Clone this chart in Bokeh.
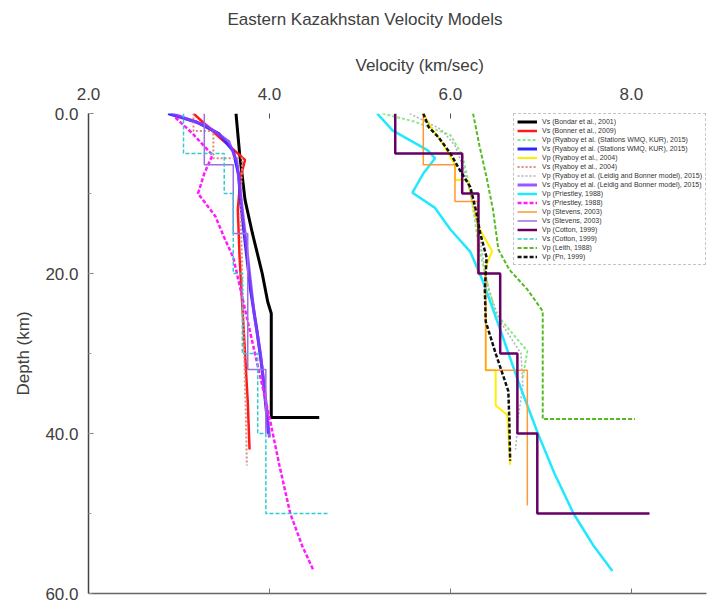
from bokeh.plotting import figure
from bokeh.models import (Range1d, LinearAxis, SingleIntervalTicker, NumeralTickFormatter,
                          Title, Legend, LegendItem)
from bokeh.embed import file_html
from bokeh.resources import INLINE

FONT = "Liberation Sans"
TXT = "#404040"

# ---- data: (velocity km/s, depth km) ----
labels = [
    "Vs (Bondar et al., 2001)",
    "Vs (Bonner et al., 2009)",
    "Vp (Ryaboy et al. (Stations WMQ, KUR), 2015)",
    "Vs (Ryaboy et al. (Stations WMQ, KUR), 2015)",
    "Vp (Ryaboy et al., 2004)",
    "Vs (Ryaboy et al., 2004)",
    "Vp (Ryaboy et al. (Leidig and Bonner model), 2015)",
    "Vs (Ryaboy et al. (Leidig and Bonner model), 2015)",
    "Vp (Priestley, 1988)",
    "Vs (Priestley, 1988)",
    "Vp (Stevens, 2003)",
    "Vs (Stevens, 2003)",
    "Vp (Cotton, 1999)",
    "Vs (Cotton, 1999)",
    "Vp (Leith, 1988)",
    "Vp (Pn, 1999)",
]

v01 = [3.63, 3.67, 3.73, 3.81, 3.92, 3.98, 4.02, 4.02, 4.55]
d01 = [0, 5, 10.8, 14.9, 20, 23.5, 25, 38, 38]

v02 = [3.16, 3.45, 3.73, 3.68, 3.65, 3.67, 3.70, 3.73, 3.76, 3.78]
d02 = [0, 3, 5.8, 8, 12, 18, 24, 30, 36, 42]

v03 = [5.25, 5.6, 6.0, 6.13, 6.22, 6.3, 6.38, 6.5, 6.85, 6.8]
d03 = [0, 1, 2.7, 5.2, 9.5, 15.7, 20, 25, 29.7, 33]

v04 = [2.88, 3.2, 3.44, 3.6, 3.66, 3.68, 3.72, 3.79, 3.86, 3.92, 3.99]
d04 = [0, 1.1, 2.5, 4.7, 7.7, 11, 15, 22, 27, 32, 40]

v05 = [5.7, 5.8, 5.9, 6.05, 6.05, 6.19, 6.22, 6.3, 6.46, 6.38, 6.39, 6.39, 6.5, 6.5, 6.63, 6.66]
d05 = [0, 2, 3.5, 6.4, 8.3, 8.3, 10, 14, 17.2, 19.5, 22, 32.1, 32.1, 36.5, 37.7, 43.9]

v06 = [3.16, 3.16, 3.38, 3.38, 3.7, 3.68, 3.70, 3.72, 3.74, 3.75]
d06 = [0, 2.2, 2.2, 5.6, 5.6, 12, 20, 30, 38, 44]

v07 = [5.55, 5.9, 6.05, 6.15, 6.22, 6.3, 6.36, 6.42, 6.55, 6.78, 6.8, 6.75, 6.72]
d07 = [0, 2, 4, 7, 10, 14, 18, 22, 26, 30, 34, 38, 42]

v08 = [2.92, 3.3, 3.55, 3.64, 3.66, 3.7, 3.76, 3.83, 3.9, 3.97, 4.0]
d08 = [0, 1.5, 3.5, 6, 8, 12, 18, 25, 30, 37, 40.5]

v09 = [5.19, 5.36, 5.75, 5.83, 5.7, 5.58, 5.83, 6.0, 6.22, 6.36, 6.55, 6.75, 6.97, 7.15, 7.36, 7.58, 7.79]
d09 = [0, 2.1, 4.6, 5.6, 7.5, 9.9, 11.8, 14.5, 17.3, 21, 27, 33.5, 40.1, 45, 50, 54, 57.2]

v10 = [2.96, 3.15, 3.37, 3.28, 3.21, 3.4, 3.5, 3.6, 3.68, 3.76, 3.9, 4.0, 4.11, 4.23, 4.36, 4.49]
d10 = [0.5, 2.5, 5.2, 7.5, 10, 12.8, 15.5, 18, 22, 26, 33, 38, 44, 50, 54, 57.2]

v11 = [5.7, 5.7, 6.05, 6.05, 6.3, 6.3, 6.39, 6.39, 6.85, 6.85]
d11 = [0, 6.4, 6.4, 11, 11, 20, 20, 32.1, 32.1, 49]

v12 = [3.28, 3.28, 3.6, 3.6, 3.76, 3.76, 3.96, 3.96]
d12 = [0, 6.4, 6.4, 15, 15, 32, 32, 40]

v13 = [5.39, 5.39, 6.13, 6.13, 6.31, 6.31, 6.55, 6.55, 6.74, 6.74, 6.96, 6.96, 8.2]
d13 = [0, 5, 5, 10, 10, 20, 20, 30, 30, 40, 40, 50, 50]

v14 = [3.05, 3.05, 3.5, 3.5, 3.6, 3.6, 3.7, 3.7, 3.87, 3.87, 3.96, 3.96, 4.65]
d14 = [0, 5, 5, 10, 10, 20, 20, 30, 30, 40, 40, 50, 50]

v15 = [6.25, 6.32, 6.4, 6.47, 6.53, 6.65, 6.85, 7.02, 7.02, 8.04]
d15 = [0, 4, 8, 12, 17, 19.5, 22, 24.7, 38.2, 38.2]

v16 = [5.7, 5.76, 5.87, 6.0, 6.1, 6.22, 6.28, 6.33, 6.4, 6.38, 6.39, 6.5, 6.64, 6.65, 6.66]
d16 = [0, 1.7, 3, 5, 7, 9.2, 12, 15, 18, 22, 26, 30, 34.7, 38, 43.4]

x_ticks_step = 2.0
y_ticks_step = 20

series = [
    (v01, d01, "#000000", 3, "solid", 1.0),
    (v02, d02, "#ff1a1a", 2.5, "solid", 1.0),
    (v03, d03, "#22dd22", 2, "3 2", 0.55),
    (v04, d04, "#2a2aff", 3, "solid", 1.0),
    (v05, d05, "#ffee00", 2, "solid", 1.0),
    (v06, d06, "#d98c80", 2, "2 2", 1.0),
    (v07, d07, "#b0b0b0", 1.5, "2 2", 1.0),
    (v08, d08, "#8a3cff", 3, "solid", 0.85),
    (v09, d09, "#22e8ff", 2.5, "solid", 1.0),
    (v10, d10, "#ff1aff", 2.5, "4 2", 1.0),
    (v11, d11, "#ff9933", 1.5, "solid", 1.0),
    (v12, d12, "#9a70e0", 1.5, "solid", 1.0),
    (v13, d13, "#660066", 2.5, "solid", 1.0),
    (v14, d14, "#33cccc", 1.5, "4 2", 1.0),
    (v15, d15, "#55bb22", 2, "4 2", 1.0),
    (v16, d16, "#111111", 2.5, "4 2", 1.0),
]

p = figure(width=710, height=604, x_range=Range1d(2.0, 8.83), y_range=Range1d(60, 0),
           x_axis_location="above", output_backend="svg", toolbar_location=None,
           min_border_left=88, min_border_right=4, min_border_top=113, min_border_bottom=11)
p.outline_line_color = None
p.xgrid.grid_line_color = None
p.ygrid.grid_line_color = None

# top axis
xa = p.xaxis[0]
xa.ticker = SingleIntervalTicker(interval=x_ticks_step, num_minor_ticks=0)
xa.formatter = NumeralTickFormatter(format="0.0")
xa.axis_line_color = None
xa.major_tick_in = 5
xa.major_tick_out = 0
xa.major_tick_line_color = "#555555"
xa.minor_tick_line_color = None
xa.major_label_standoff = 14
xa.major_label_text_font = FONT
xa.major_label_text_font_size = "17px"
xa.major_label_text_color = TXT

# left axis
ya = p.yaxis[0]
ya.ticker = SingleIntervalTicker(interval=y_ticks_step, num_minor_ticks=2)
ya.formatter = NumeralTickFormatter(format="0.0")
ya.axis_line_color = "#444444"
ya.axis_line_width = 1.5
ya.major_tick_in = 5
ya.major_tick_out = 0
ya.minor_tick_in = 3
ya.minor_tick_out = 0
ya.major_tick_line_color = "#777777"
ya.minor_tick_line_color = "#999999"
ya.major_label_standoff = 10
ya.major_label_text_font = FONT
ya.major_label_text_font_size = "17px"
ya.major_label_text_color = TXT
ya.axis_label = "Depth (km)"
ya.axis_label_text_font = FONT
ya.axis_label_text_font_size = "17px"
ya.axis_label_text_font_style = "normal"
ya.axis_label_text_color = TXT
ya.axis_label_standoff = 9

# bottom axis (ticks only)
xb = LinearAxis(ticker=SingleIntervalTicker(interval=x_ticks_step, num_minor_ticks=0),
                major_label_text_font_size="1px", major_label_text_alpha=0,
                major_label_standoff=0, major_tick_in=5, major_tick_out=0,
                minor_tick_line_color=None, axis_line_color="#666666",
                axis_line_width=1.5, major_tick_line_color="#777777")
p.add_layout(xb, "below")

# axis label over the top axis, then a small gap, then the main title
p.add_layout(Title(text="Velocity (km/sec)", align="left", offset=267, standoff=20,
                   text_font=FONT, text_font_size="17px", text_font_style="normal",
                   text_color=TXT), "above")
p.add_layout(Title(text=" ", text_font_size="10px", standoff=2), "above")
p.add_layout(Title(text="Eastern Kazakhstan Velocity Models", align="left", offset=139,
                   standoff=0, text_font=FONT, text_font_size="17px",
                   text_font_style="normal", text_color=TXT), "above")

items = []
for (vv, dd, col, lw, dash, al), lab in zip(series, labels):
    r = p.line(vv, dd, line_color=col, line_width=lw, line_dash=dash, line_alpha=al)
    items.append(LegendItem(label=lab, renderers=[r]))

leg = Legend(items=items, location="top_right", margin=0, padding=3, spacing=0,
             label_text_font=FONT, label_text_font_size="7px", label_height=9,
             glyph_height=9, glyph_width=20, label_standoff=5,
             border_line_color="#888888", border_line_dash="4 2",
             background_fill_alpha=1.0, label_text_color="#333333")
p.add_layout(leg)

open("out.html", "w").write(file_html(p, INLINE))
